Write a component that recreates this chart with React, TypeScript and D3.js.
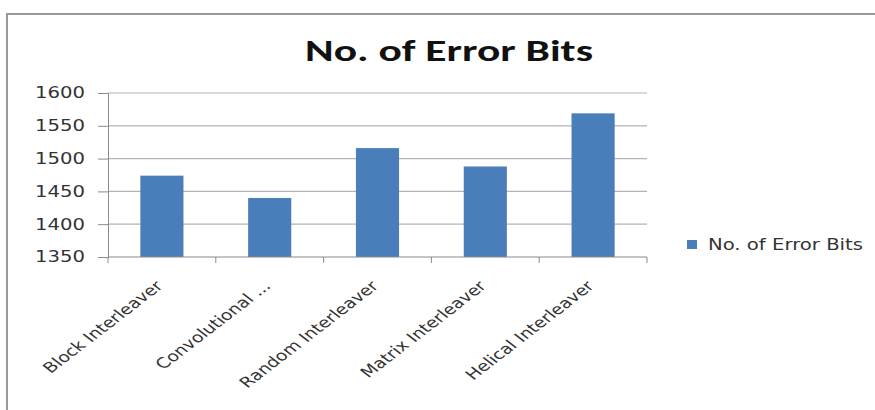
import * as d3 from 'd3';
import { useEffect, useRef } from 'react';

const categories = [
  'Block Interleaver',
  'Convolutional ...',
  'Random Interleaver',
  'Matrix Interleaver',
  'Helical Interleaver'
];
const errorBits = [1474, 1440, 1516, 1488, 1569];
const yTicks = [1350, 1400, 1450, 1500, 1550, 1600];
const seriesName = 'No. of Error Bits';

const App = () => {
  const ref = useRef<SVGSVGElement | null>(null);

  useEffect(() => {
    document.body.style.margin = '0';
    if (!ref.current) return;

    const svg = d3.select(ref.current);
    svg.selectAll('*').remove();

    const width = 875;
    const height = 410;
    const left = 108;
    const right = 647;
    const top = 93;
    const bottom = 257;
    const stretch = 1.3; // the source picture is wider than it is tall
    const font = "'DejaVu Sans', Verdana, sans-serif";

    svg.attr('width', width).attr('height', height);

    svg
      .append('rect')
      .attr('width', width)
      .attr('height', height)
      .attr('fill', '#fff');

    // chart frame
    svg
      .append('rect')
      .attr('x', 7)
      .attr('y', 14)
      .attr('width', width + 10)
      .attr('height', height + 10)
      .attr('fill', 'none')
      .attr('stroke', '#9a9a9a')
      .attr('stroke-width', 2);

    svg
      .append('text')
      .attr('transform', `translate(449,61) scale(${stretch},1)`)
      .attr('text-anchor', 'middle')
      .attr('font-family', "Carlito, 'Liberation Sans Narrow', sans-serif")
      .attr('font-weight', 'bold')
      .attr('font-size', 30)
      .attr('textLength', 288 / stretch)
      .attr('lengthAdjust', 'spacingAndGlyphs')
      .attr('fill', '#111')
      .text(seriesName);

    const x = d3
      .scaleBand()
      .domain(categories)
      .range([left, right])
      .paddingInner(0.6)
      .paddingOuter(0.3);

    const y = d3.scaleLinear().domain([1350, 1600]).range([bottom, top]);

    // gridlines
    svg
      .append('g')
      .selectAll('line')
      .data(yTicks.filter(t => t !== 1350))
      .enter()
      .append('line')
      .attr('x1', left)
      .attr('x2', right)
      .attr('y1', d => y(d))
      .attr('y2', d => y(d))
      .attr('stroke', '#b4b4b4')
      .attr('stroke-width', 1.2);

    // y axis
    const yAxis = svg
      .append('g')
      .attr('transform', `translate(${left},0)`)
      .call(
        d3
          .axisLeft(y)
          .tickValues(yTicks)
          .tickFormat(d3.format('d'))
          .tickSize(10)
          .tickPadding(13)
      );
    yAxis.select('.domain').attr('stroke', '#8a8a8a');
    yAxis.selectAll('line').attr('stroke', '#8a8a8a');
    yAxis
      .selectAll('.tick text')
      .attr('font-family', font)
      .attr('font-size', 15)
      .attr('textLength', 50)
      .attr('lengthAdjust', 'spacingAndGlyphs')
      .attr('x', -73)
      .attr('text-anchor', 'start')
      .attr('fill', '#333');

    // bars
    svg
      .selectAll('.bar')
      .data(errorBits)
      .enter()
      .append('rect')
      .attr('class', 'bar')
      .attr('x', (_, i) => x(categories[i]) || 0)
      .attr('y', d => y(d))
      .attr('width', x.bandwidth())
      .attr('height', d => bottom - y(d))
      .attr('fill', '#4a7ebb');

    // x axis
    const step = (right - left) / categories.length;
    const xg = svg.append('g');
    xg.append('line')
      .attr('x1', left)
      .attr('x2', right)
      .attr('y1', bottom)
      .attr('y2', bottom)
      .attr('stroke', '#8a8a8a');
    xg.selectAll('.xtick')
      .data(d3.range(categories.length + 1))
      .enter()
      .append('line')
      .attr('x1', i => left + i * step)
      .attr('x2', i => left + i * step)
      .attr('y1', bottom)
      .attr('y2', bottom + 6)
      .attr('stroke', '#8a8a8a');

    xg.selectAll('.xlabel')
      .data(categories)
      .enter()
      .append('text')
      .attr('text-anchor', 'end')
      .attr('font-family', font)
      .attr('font-size', 14.5)
      .attr('fill', '#333')
      .attr('transform', d => {
        const cx = (x(d) || 0) + x.bandwidth() / 2 + 2;
        return `translate(${cx},${bottom + 30}) scale(${stretch},1) rotate(-45)`;
      })
      .text(d => d);

    // legend
    svg
      .append('rect')
      .attr('x', 687)
      .attr('y', 240)
      .attr('width', 10)
      .attr('height', 9)
      .attr('fill', '#4a7ebb');
    svg
      .append('text')
      .attr('x', 708)
      .attr('y', 250)
      .attr('font-family', font)
      .attr('font-size', 16)
      .attr('textLength', 155)
      .attr('lengthAdjust', 'spacingAndGlyphs')
      .attr('fill', '#333')
      .text(seriesName);
  }, []);

  return <svg ref={ref} />;
};

export default App;
